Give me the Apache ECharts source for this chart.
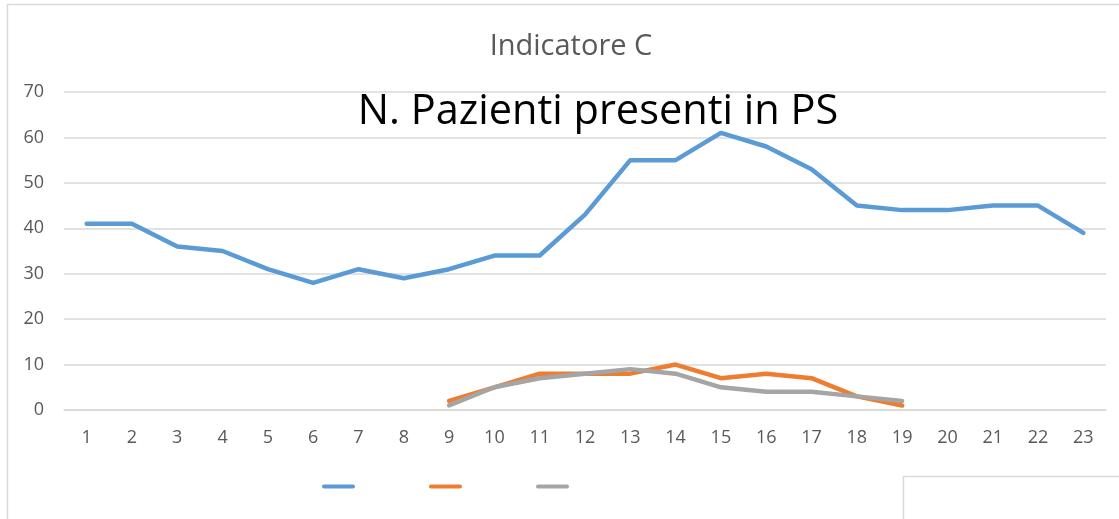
<!DOCTYPE html>
<html>
<head>
<meta charset="utf-8">
<script src="https://cdn.jsdelivr.net/npm/echarts@6/dist/echarts.min.js"></script>
<style>
  html, body { margin: 0; padding: 0; background: #ffffff; }
  #chart { width: 1119px; height: 519px; }
</style>
</head>
<body>
<div id="chart"></div>
<script>
// Hours of the day shown on the category axis
const hours = ['1','2','3','4','5','6','7','8','9','10','11','12','13','14','15','16','17','18','19','20','21','22','23'];

// Patients present in the emergency department, per hour
const serie1 = [41, 41, 36, 35, 31, 28, 31, 29, 31, 34, 34, 43, 55, 55, 61, 58, 53, 45, 44, 44, 45, 45, 39];
const serie2 = [null, null, null, null, null, null, null, null, 2, 5, 8, 8, 8, 10, 7, 8, 7, 3, 1, null, null, null, null];
const serie3 = [null, null, null, null, null, null, null, null, 1, 5, 7, 8, 9, 8, 5, 4, 4, 3, 2, null, null, null, null];

const seriesNames = ['Serie1', 'Serie2', 'Serie3'];
const seriesColors = ['#5b9bd5', '#ed7d31', '#a5a5a5'];

const chartTitle = 'Indicatore C';
const chartSubtitle = 'N. Pazienti presenti in PS';

const FONT = '"Open Sans", "Liberation Sans", sans-serif';

const chart = echarts.init(document.getElementById('chart'), null, { renderer: 'canvas' });

const capsule = 'path://M2,0 L31,0 A2,2 0 0 1 31,4 L2,4 A2,2 0 0 1 2,0 Z';

function lineSeries(i, data) {
  return {
    name: seriesNames[i],
    type: 'line',
    data: data,
    symbol: 'none',
    connectNulls: false,
    lineStyle: { width: 4.5, color: seriesColors[i], cap: 'round', join: 'round' },
    itemStyle: { color: seriesColors[i] },
    z: 3 + i
  };
}

chart.setOption({
  animation: false,
  backgroundColor: '#ffffff',
  title: [
    {
      text: chartTitle,
      left: 566, top: 27, textAlign: 'center',
      textStyle: { fontFamily: FONT, fontSize: 29, fontWeight: 'normal', color: '#595959' }
    },
    {
      text: chartSubtitle,
      left: 593, top: 86, textAlign: 'center',
      textStyle: { fontFamily: FONT, fontSize: 41.5, fontWeight: 'normal', color: '#000000' }
    }
  ],
  grid: { left: 64, right: 13, top: 92, bottom: 109, containLabel: false },
  legend: {
    left: 317, top: 479,
    itemWidth: 33, itemHeight: 5,
    itemGap: 74,
    icon: capsule,
    formatter: function () { return ''; },
    selectedMode: false,
    data: seriesNames
  },
  xAxis: {
    type: 'category',
    data: hours,
    boundaryGap: true,
    axisLine: { show: true, lineStyle: { color: '#d9d9d9', width: 1.5 } },
    axisTick: { show: false },
    axisLabel: { color: '#595959', fontFamily: FONT, fontSize: 18, margin: 19 }
  },
  yAxis: {
    type: 'value',
    min: 0, max: 70, interval: 10,
    axisLine: { show: false },
    axisTick: { show: false },
    splitLine: { lineStyle: { color: '#d9d9d9', width: 1.5 } },
    axisLabel: { color: '#595959', fontFamily: FONT, fontSize: 18, margin: 20 }
  },
  series: [
    lineSeries(0, serie1),
    lineSeries(1, serie2),
    lineSeries(2, serie3)
  ],
  graphic: [
    {
      type: 'rect', silent: true, z: -1,
      shape: { x: 7.5, y: 4.5, width: 1200, height: 600 },
      style: { fill: null, stroke: '#d9d9d9', lineWidth: 1.5 }
    },
    {
      type: 'rect', silent: true, z: -1,
      shape: { x: 903.5, y: 476.5, width: 400, height: 200 },
      style: { fill: null, stroke: '#d9d9d9', lineWidth: 1.5 }
    }
  ]
});
</script>
</body>
</html>
